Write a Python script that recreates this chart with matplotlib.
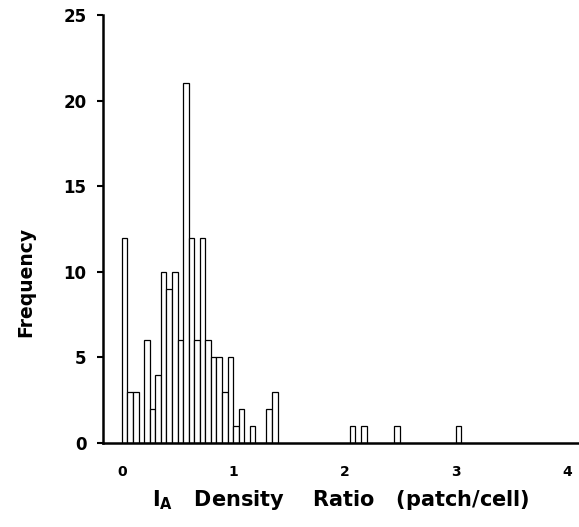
import matplotlib
matplotlib.use("Agg")
import matplotlib.pyplot as plt

plt.rcParams['font.family'] = ['DejaVu Sans']
plt.rcParams['font.weight'] = 'bold'
plt.rcParams['mathtext.fontset'] = 'dejavusans'

# Histogram data: left edges of 0.05-wide bins and their counts
bin_width = 0.05
bin_starts = [0.00, 0.05, 0.10, 0.15, 0.20, 0.25, 0.30, 0.35, 0.40, 0.45,
              0.50, 0.55, 0.60, 0.65, 0.70, 0.75, 0.80, 0.85, 0.90, 0.95,
              1.00, 1.05, 1.10, 1.15, 1.20, 1.25, 1.30, 1.35,
              2.05, 2.15, 2.45, 3.00]
counts = [12, 3, 3, 0, 6, 2, 4, 10, 9, 10,
          6, 21, 12, 6, 12, 6, 5, 5, 3, 5,
          1, 2, 0, 1, 0, 0, 2, 3,
          1, 1, 1, 1]

x_ticks = [0, 1, 2, 3, 4]
y_ticks = [0, 5, 10, 15, 20, 25]

fig = plt.figure(figsize=(5.79, 5.27), dpi=100)
ax = fig.add_axes([103/579, 84/527, 476/579, 428/527])

ax.bar(bin_starts, counts, width=bin_width, align='edge',
       facecolor='white', edgecolor='black', linewidth=0.9, zorder=2)

ax.set_xlim(-0.17, 4.11)
ax.set_ylim(0, 25)
ax.set_xticks(x_ticks)
ax.set_yticks(y_ticks)
ax.set_xticklabels([str(t) for t in x_ticks], fontsize=10, fontweight='bold')
ax.set_yticklabels([str(t) for t in y_ticks], fontsize=12, fontweight='bold')

for s in ['top', 'right']:
    ax.spines[s].set_visible(False)
for s in ['left', 'bottom']:
    ax.spines[s].set_linewidth(1.8)
    ax.spines[s].set_zorder(3)

ax.tick_params(axis='x', length=0, pad=16)
ax.tick_params(axis='y', direction='out', length=4, width=1.5, pad=8)

ax.set_xlabel(r'$\mathbf{I}_{\mathbf{A}}$   Density    Ratio   (patch/cell)',
              fontsize=15, fontweight='bold', labelpad=6)
ax.set_ylabel('Frequency', fontsize=13.5, fontweight='bold')
ax.yaxis.set_label_coords(-0.143, 0.376)

fig.savefig('out.png', dpi=100)
